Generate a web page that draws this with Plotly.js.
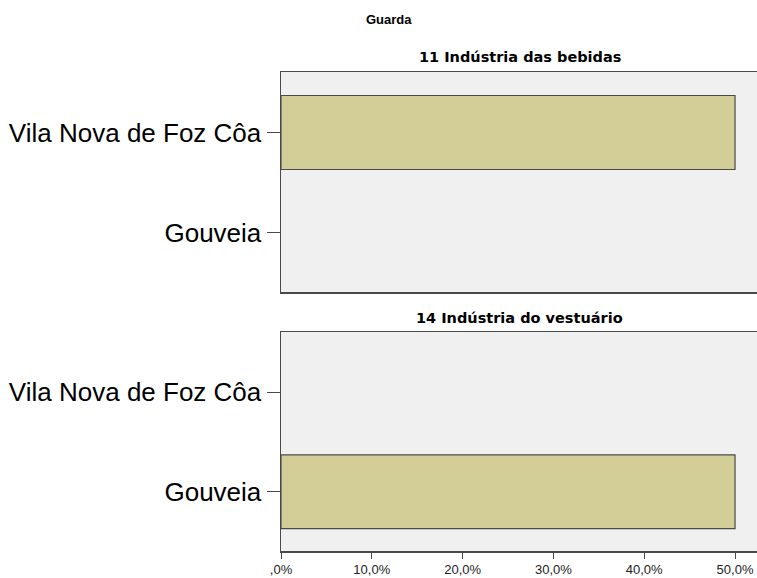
<!DOCTYPE html>
<html>
<head>
<meta charset="utf-8">
<script src="https://cdn.plot.ly/plotly-3.0.1.min.js"></script>
<style>
html, body { margin:0; padding:0; overflow:hidden; background:#fff; }
#chart { width:760px; height:578px; }
</style>
</head>
<body>
<div id="chart"></div>
<script>
const mainTitle = "Guarda";
const panelTitles = ["11 Indústria das bebidas", "14 Indústria do vestuário"];
const categories = ["Vila Nova de Foz Côa", "Gouveia"];
const bebidasPct = [50, 0];
const vestuarioPct = [0, 50];
const xTickVals = [0, 10, 20, 30, 40, 50];
const xTickText = [",0%", "10,0%", "20,0%", "30,0%", "40,0%", "50,0%"];

const barColor = "#d3ce98";
const lineColor = "#4a4a4a";
const nz = v => v.map(d => (d === 0 ? null : d));

const mkBar = (vals, xa, ya) => ({
  type: "bar", orientation: "h",
  x: nz(vals), y: categories,
  xaxis: xa, yaxis: ya,
  width: 0.74,
  marker: { color: barColor, line: { color: lineColor, width: 1.2 } },
  hoverinfo: "skip"
});

const data = [mkBar(bebidasPct, "x2", "y"), mkBar(vestuarioPct, "x", "y2")];

const yCommon = {
  type: "category", categoryarray: categories,
  range: [1.595, -0.605], autorange: false,
  showline: true, mirror: true, linecolor: lineColor, linewidth: 1.5,
  ticks: "outside", ticklen: 13, tickcolor: lineColor, tickwidth: 1,
  ticklabelstandoff: 0,
  showgrid: false, zeroline: false,
  tickfont: { family: "Liberation Sans, Arial, sans-serif", size: 26, color: "#000" }
};
const xCommon = {
  range: [0, 52.53], autorange: false,
  showline: true, mirror: true, linecolor: lineColor, linewidth: 1.5,
  showgrid: false, zeroline: false,
  tickvals: xTickVals, ticktext: xTickText
};

const titleFont = { family: "DejaVu Sans, sans-serif", size: 14.5, color: "#000" };

const layout = {
  width: 760, height: 578,
  margin: { l: 281, r: 2, t: 72, b: 27 },
  paper_bgcolor: "#ffffff", plot_bgcolor: "#f0f0f0",
  showlegend: false, bargap: 0,
  xaxis: Object.assign({}, xCommon, {
    anchor: "y2", ticks: "outside", ticklen: 6, tickcolor: lineColor, tickwidth: 1,
    tickfont: { family: "Liberation Sans, Arial, sans-serif", size: 13, color: "#222" }
  }),
  xaxis2: Object.assign({}, xCommon, { anchor: "y", matches: "x", showticklabels: false, ticks: "" }),
  yaxis: Object.assign({}, yCommon, { domain: [0.5407, 1], anchor: "x2" }),
  yaxis2: Object.assign({}, yCommon, { domain: [0, 0.4572], anchor: "x" }),
  annotations: [
    { text: "<b>" + mainTitle + "</b>", xref: "paper", yref: "paper",
      x: (389 - 281) / 477, y: 1 + (72 - 20) / 479, xanchor: "center", yanchor: "middle",
      showarrow: false, font: { family: "Liberation Sans, Arial, sans-serif", size: 13, color: "#000" } },
    { text: "<b>" + panelTitles[0] + "</b>", xref: "paper", yref: "paper",
      x: 0.5, y: 1 + (72 - 57) / 479, xanchor: "center", yanchor: "middle",
      showarrow: false, font: titleFont },
    { text: "<b>" + panelTitles[1] + "</b>", xref: "paper", yref: "paper",
      x: 0.5, y: (551 - 318) / 479, xanchor: "center", yanchor: "middle",
      showarrow: false, font: titleFont }
  ]
};

Plotly.newPlot("chart", data, layout, { displayModeBar: false, staticPlot: true });
</script>
</body>
</html>
